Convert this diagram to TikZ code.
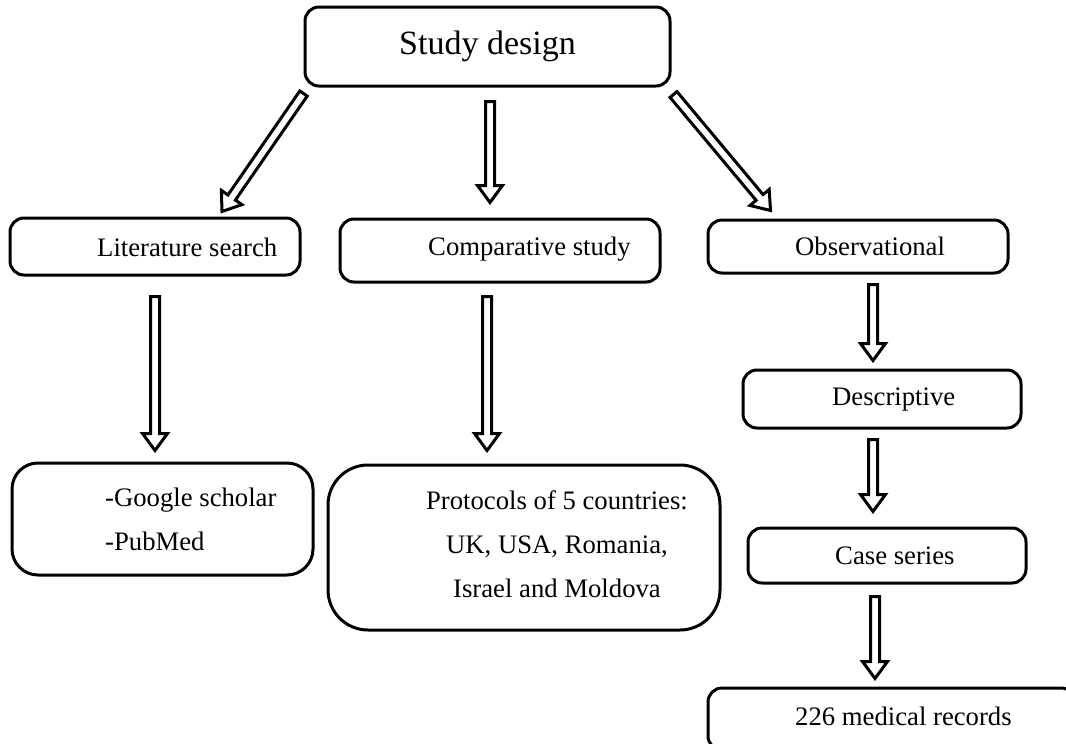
\documentclass[tikz,border=0pt]{standalone}
\usepackage{fontspec}
\setmainfont{Liberation Serif}
\usepackage{tikz}
\usetikzlibrary{calc}

\tikzset{
  box/.style={draw, line width=3pt, rounded corners=14pt, inner sep=0pt},
  boxtext/.style={anchor=west, inner sep=0pt, font=\fontsize{26.7}{44}\selectfont},
  arrowline/.style={draw, line width=3pt, line join=miter, fill=white}
}

% hollow block arrow between two points
\newcommand{\hollowarrow}[2]{%
  \coordinate (ha) at (#1);
  \coordinate (hb) at (#2);
  \coordinate (hc) at ($(hb)!17pt!(ha)$);
  \draw[arrowline] ($(ha)!4.5pt!90:(hb)$) -- ($(hc)!4.5pt!-90:(ha)$) -- ($(hc)!12.5pt!-90:(ha)$)
    -- (hb) -- ($(hc)!12.5pt!90:(ha)$) -- ($(hc)!4.5pt!90:(ha)$) -- ($(ha)!4.5pt!-90:(hb)$) -- cycle;}

\begin{document}
\begin{tikzpicture}[x=1pt, y=-1pt]
  \useasboundingbox (0,0) rectangle (1066,744);
  % Boxes
  \node[box, minimum width=365, minimum height=79, font=\fontsize{34}{40}\selectfont] (study) at (487.5,46.5) {Study design};
  \node[box, minimum width=290, minimum height=57] (lit) at (155,246.5) {};
  \node[box, minimum width=320, minimum height=63] (comp) at (500,250.5) {};
  \node[box, minimum width=300, minimum height=53] (obs) at (858,246.5) {};
  \node[box, rounded corners=26pt, minimum width=301, minimum height=112] (goo) at (162.5,519) {};
  \node[box, rounded corners=40pt, minimum width=392, minimum height=165] (prot) at (524,547.5) {};
  \node[box, minimum width=278, minimum height=58] (desc) at (882,399) {};
  \node[box, minimum width=278, minimum height=55] (case) at (887,555.5) {};
  \node[box, minimum width=367, minimum height=62] (rec) at (891.5,719) {};
  % Texts in the boxes
  \node[boxtext] (litt) at (97,247) {Literature search};
  \node[boxtext] (compt) at (428,249) {Comparative study};
  \node[boxtext] (obst) at (795,246) {Observational};
  \node[boxtext, align=left] (goot) at (105,519) {-Google scholar\\-PubMed};
  \node[boxtext, anchor=center, align=center] (prott) at (557,544) {Protocols of 5 countries:\\UK, USA, Romania,\\Israel and Moldova};
  \node[boxtext] (desct) at (832,399) {Descriptive};
  \node[boxtext] (caset) at (835,556) {Case series};
  \node[boxtext] (rect) at (795,716) {226 medical records};
  % Arrows
  \hollowarrow{$(study.south west)+(0,6)$}{$(lit.north)+(67,-5)$}
  \hollowarrow{$(study.south)+(2.5,14)$}{$(study.south |- comp.north)+(2.5,-15)$}
  \hollowarrow{$(study.south east)+(2,7)$}{$(obs.north west)+(64,-8)$}
  \hollowarrow{$(lit.south)+(0,20)$}{$(lit.south |- goo.north)+(0,-11)$}
  \hollowarrow{$(comp.south)+(-13,13)$}{$(comp.south |- prot.north)+(-13,-13)$}
  \hollowarrow{$(obs.south)+(15,10)$}{$(obs.south |- desc.north)+(15,-8)$}
  \hollowarrow{$(desc.south)+(-9,10)$}{$(desc.south |- case.north)+(-9,-15)$}
  \hollowarrow{$(case.south)+(-12,12)$}{$(case.south |- rec.north)+(-12,-8)$}
\end{tikzpicture}
\end{document}
